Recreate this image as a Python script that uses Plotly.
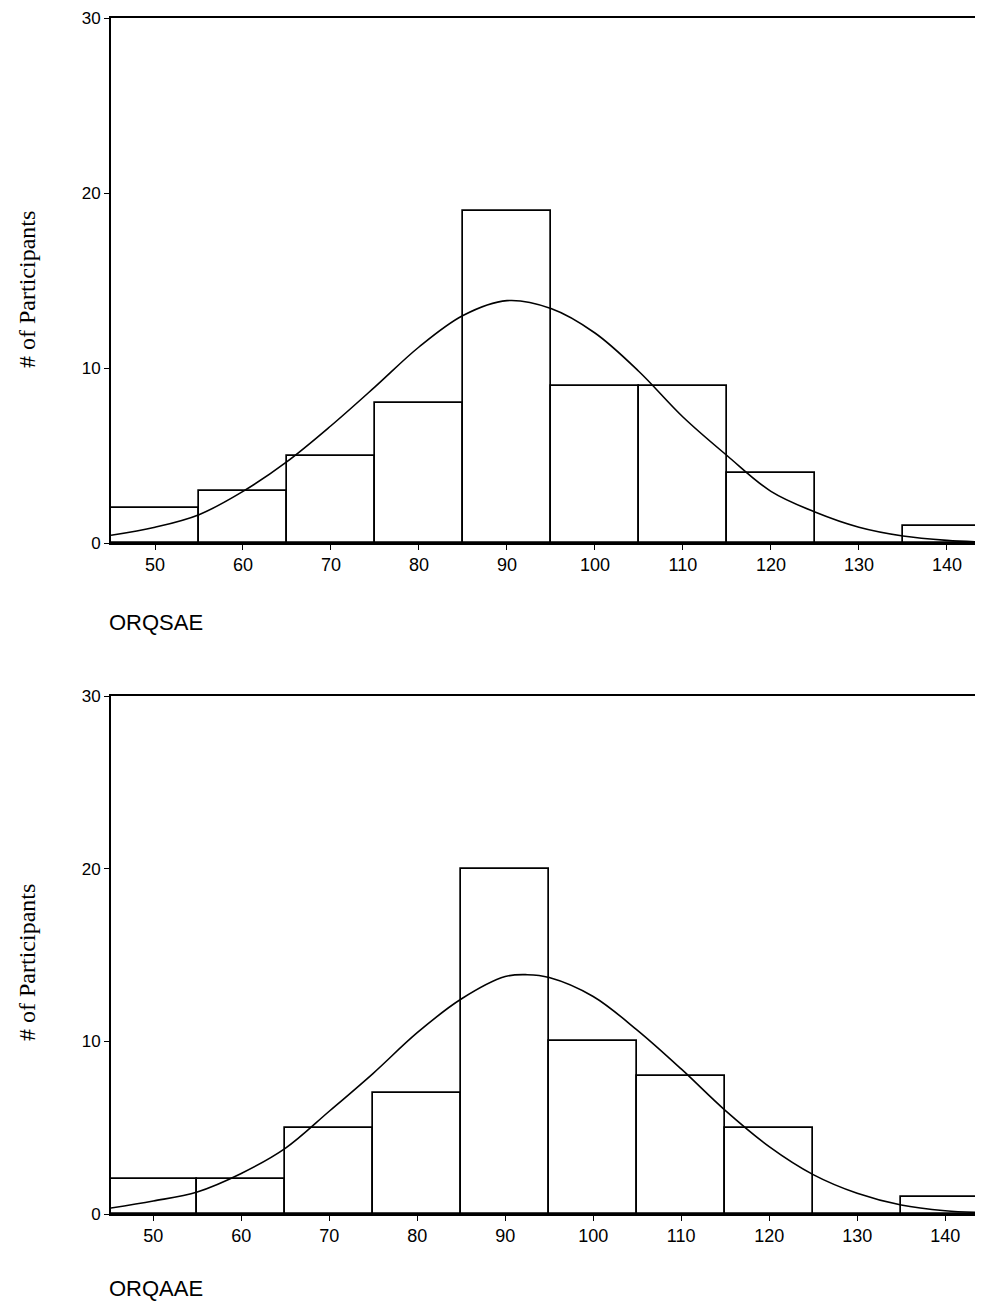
import plotly.graph_objects as go

# ---- data ----
bin_centers = [50, 60, 70, 80, 90, 100, 110, 120, 130, 140]
orqsae_counts = [2, 3, 5, 8, 19, 9, 9, 4, 0, 1]
orqaae_counts = [2, 2, 5, 7, 20, 10, 8, 5, 0, 1]

# fitted normal curves
orqsae_curve_x = [45, 50, 55, 60, 65, 70, 75, 80, 85, 90, 95, 100, 105, 110, 115, 120, 125, 130, 135, 140, 144.1]
orqsae_curve_y = [0.44, 0.9, 1.62, 2.95, 4.65, 6.7, 8.92, 11.2, 13.0, 13.85, 13.4, 12.0, 9.8, 7.2, 5.0, 2.95, 1.77, 0.9, 0.4, 0.15, 0.05]
orqaae_curve_x = [45, 50, 55, 60, 65, 70, 75, 80, 85, 90, 92.5, 95, 100, 105, 110, 115, 120, 125, 130, 135, 140, 144.3]
orqaae_curve_y = [0.33, 0.75, 1.28, 2.35, 3.8, 5.95, 8.15, 10.5, 12.45, 13.75, 13.86, 13.7, 12.6, 10.65, 8.4, 6.0, 3.9, 2.28, 1.2, 0.52, 0.19, 0.08]

x_ticks = [50, 60, 70, 80, 90, 100, 110, 120, 130, 140]
y_ticks = [0, 10, 20, 30]
y_title = "# of Participants"
x_titles = ["ORQSAE", "ORQAAE"]

# page has an 8px body margin; size the figure so that it fills the window
OFF = 8
W, H = 983 - OFF, 1303 - OFF
ML, MR, MT = 111 - OFF, 0, 18 - OFF
MB = H + OFF - 1214
PW = W - ML - MR
PH = H - MT - MB

def py2paper(py):  # py: reference page pixel
    return (1214 - py) / PH

def px2paper(px):
    return (px - 111) / PW

fig = go.Figure()

line_col = "black"
bar_style = dict(color="white", line=dict(color="black", width=1.7))

fig.add_trace(go.Bar(x=bin_centers, y=orqsae_counts, width=10, marker=bar_style,
                     xaxis="x", yaxis="y", showlegend=False))
fig.add_trace(go.Scatter(x=orqsae_curve_x, y=orqsae_curve_y, mode="lines",
                         line=dict(color=line_col, width=1.6, shape="spline"),
                         xaxis="x", yaxis="y", showlegend=False))
fig.add_trace(go.Bar(x=bin_centers, y=orqaae_counts, width=10, marker=bar_style,
                     xaxis="x2", yaxis="y2", showlegend=False))
fig.add_trace(go.Scatter(x=orqaae_curve_x, y=orqaae_curve_y, mode="lines",
                         line=dict(color=line_col, width=1.6, shape="spline"),
                         xaxis="x2", yaxis="y2", showlegend=False))

xtickfont = dict(family="Liberation Sans, Arial", size=18, color="black")
ytickfont = dict(family="Liberation Sans, Arial", size=17, color="black")
xcommon = dict(tickvals=x_ticks, showline=True, linecolor="black", linewidth=1.7,
               mirror=True, ticks="outside", ticklen=5, tickcolor="black",
               showgrid=False, zeroline=False, tickfont=xtickfont)
ycommon = dict(tickvals=y_ticks, range=[0, 30], showline=True, linecolor="black",
               linewidth=1.7, ticks="outside", ticklen=5, tickcolor="black",
               showgrid=False, zeroline=False, tickfont=ytickfont)

fig.update_layout(
    width=W, height=H,
    margin=dict(l=ML, r=MR, t=MT, b=MB),
    paper_bgcolor="white", plot_bgcolor="white",
    bargap=0,
    xaxis=dict(domain=[0, 1], range=[45, 144.1], anchor="y", **xcommon),
    yaxis=dict(domain=[py2paper(543), 1.0], anchor="x", **ycommon),
    xaxis2=dict(domain=[0, 1], range=[45.2, 144.3], anchor="y2", **xcommon),
    yaxis2=dict(domain=[0, py2paper(696)], anchor="x2", **ycommon),
)

ann_font_title = dict(family="Liberation Serif, Times New Roman", size=24, color="black")
ann_font_x = dict(family="Liberation Sans, Arial", size=22, color="black")
for cy in [290, 963]:
    fig.add_annotation(text=y_title, xref="paper", yref="paper",
                       x=px2paper(27), y=py2paper(cy), textangle=-90,
                       showarrow=False, font=ann_font_title,
                       xanchor="center", yanchor="middle")
for label, cy in zip(x_titles, [623, 1288]):
    fig.add_annotation(text=label, xref="paper", yref="paper",
                       x=px2paper(107), y=py2paper(cy),
                       showarrow=False, font=ann_font_x,
                       xanchor="left", yanchor="middle")

fig.write_html("out.html")
